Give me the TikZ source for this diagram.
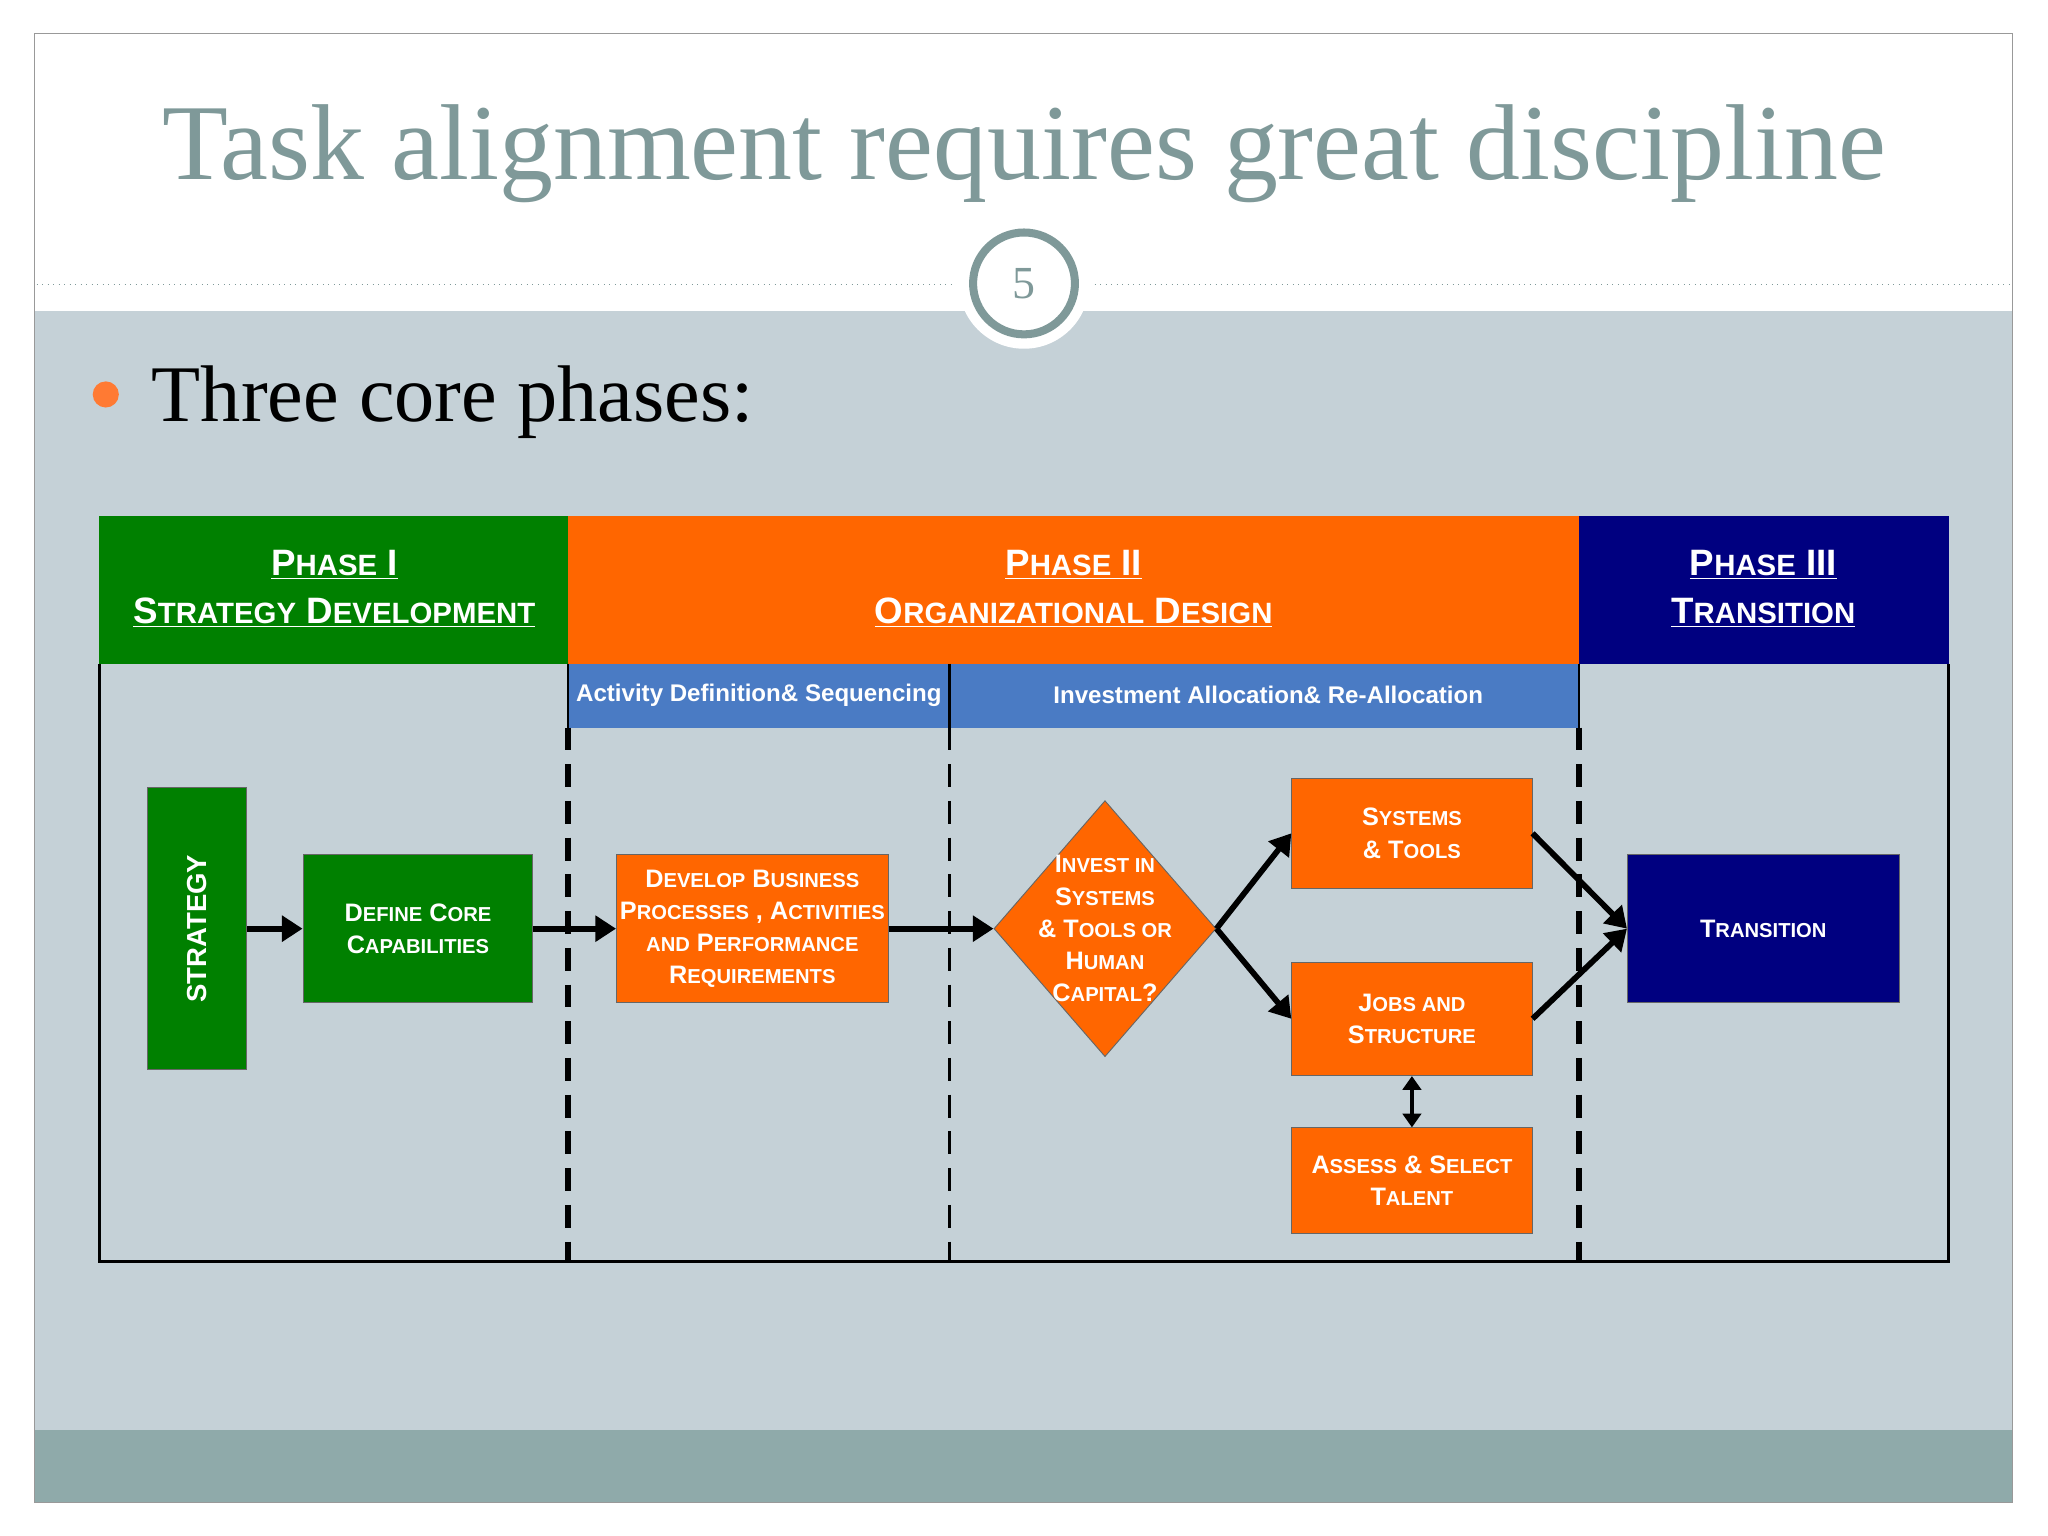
\documentclass[tikz,border=0pt]{standalone}
\usepackage{fontspec}
\setmainfont{Liberation Serif}
\newfontfamily\lsans{Liberation Sans}
\usetikzlibrary{shapes.geometric,arrows.meta}
\definecolor{bgc}{HTML}{C5D1D7}
\definecolor{band}{HTML}{8FAAAA}
\definecolor{teal}{HTML}{7F9999}
\definecolor{gr}{HTML}{008000}
\definecolor{orn}{HTML}{FF6600}
\definecolor{nav}{HTML}{000080}
\definecolor{blu}{HTML}{4A7BC4}
\newcommand\sm[1]{\scalebox{0.8}{#1}}
\begin{document}
\begin{tikzpicture}[x=0.02cm,y=-0.02cm,
 box/.style={draw=black!60,line width=0.4pt,text=white,font=\lsans\bfseries\fontsize{11}{14}\selectfont,align=center,inner sep=0},
 hdr/.style={text=white,font=\lsans\bfseries\fontsize{16}{19}\selectfont,align=center,inner sep=0},
 arr/.style={line width=2.5pt,-{Triangle[length=9pt,width=11pt]}},
 dsh/.style={dash pattern=on 10pt off 6pt}]
\useasboundingbox (0,0) rectangle (1568,1176);
\fill[white] (0,0) rectangle (1568,1176);
\fill[bgc] (26,238) rectangle (1541,1095);
\fill[band] (26,1095) rectangle (1541,1150);
\draw[black!40] (26,26) rectangle (1541,1150);
\draw[teal,dotted] (28,218) -- (730,218) (838,218) -- (1538,218);
\fill[white] (784,217) circle (50);
\draw[teal,line width=3.5pt,fill=white] (784,217) circle (39);
\node[text=teal,font=\fontsize{20}{22}\selectfont] (num) at (784,217) {5};
\node[text=teal,font=\fontsize{47}{54}\selectfont] (title) at (784,118) {Task alignment requires great discipline};
\fill[orange!70!red!80] (81,302) circle (10);
\node[anchor=west,font=\fontsize{35}{40}\selectfont] (bul) at (110,308) {Three core phases:};
% headers
\fill[gr] (76,395) rectangle (435,508);
\fill[orn] (435,395) rectangle (1209,508);
\fill[nav] (1209,395) rectangle (1492,508);
\node[hdr] (h1) at (256,451) {\underline{P\sm{HASE} I}\\[2pt]\underline{S\sm{TRATEGY} D\sm{EVELOPMENT}}};
\node[hdr] (h2) at (822,451) {\underline{P\sm{HASE} II}\\[2pt]\underline{O\sm{RGANIZATIONAL} D\sm{ESIGN}}};
\node[hdr] (h3) at (1350,451) {\underline{P\sm{HASE} III}\\[2pt]\underline{T\sm{RANSITION}}};
\fill[blu] (435,508) rectangle (727,557);
\fill[blu] (727,508) rectangle (1209,557);
\node[text=white,font=\lsans\bfseries\fontsize{10.5}{12}\selectfont] (b1) at (581,532) {Activity Definition\& Sequencing};
\node[text=white,font=\lsans\bfseries\fontsize{10.5}{12}\selectfont] (b2) at (971,532) {Investment Allocation\& Re-Allocation};
\draw[line width=1.2pt] (76,508) -- (76,966) -- (1492,966) -- (1492,508);
\draw[line width=1pt] (435,508) -- (435,557) (727,508)--(727,557) (1209,508)--(1209,557);
\draw[line width=2.5pt,dsh] (435,557) -- (435,966);
\draw[line width=1.5pt,dsh] (727,557) -- (727,966);
\draw[line width=2.5pt,dsh] (1209,557) -- (1209,966);
% nodes
\node[box,fill=gr,minimum width=76*0.02cm,minimum height=216*0.02cm] (str) at (151,711) {};
\node[text=white,font=\lsans\bfseries\fontsize{12}{14}\selectfont,rotate=90] (strt) at (151,711) {STRATEGY};
\node[box,fill=gr,minimum width=176*0.02cm,minimum height=113*0.02cm] (def) at (320,711) {D\sm{EFINE} C\sm{ORE}\\C\sm{APABILITIES}};
\node[box,fill=orn,minimum width=208*0.02cm,minimum height=113*0.02cm] (dev) at (576,711) {D\sm{EVELOP} B\sm{USINESS}\\P\sm{ROCESSES} , A\sm{CTIVITIES}\\\sm{AND} P\sm{ERFORMANCE}\\R\sm{EQUIREMENTS}};
\node[box,fill=orn,diamond,minimum width=170*0.02cm,minimum height=196*0.02cm,aspect=0.87] (dia) at (846,711) {};
\node[text=white,font=\lsans\bfseries\fontsize{11}{14}\selectfont,align=center] (diat) at (846,711) {I\sm{NVEST IN}\\S\sm{YSTEMS}\\\& T\sm{OOLS OR}\\H\sm{UMAN}\\C\sm{APITAL}?};
\node[box,fill=orn,minimum width=184*0.02cm,minimum height=84*0.02cm] (sys) at (1081,638) {S\sm{YSTEMS}\\\& T\sm{OOLS}};
\node[box,fill=orn,minimum width=184*0.02cm,minimum height=87*0.02cm] (job) at (1081,780) {J\sm{OBS AND}\\S\sm{TRUCTURE}};
\node[box,fill=orn,minimum width=184*0.02cm,minimum height=81*0.02cm] (ass) at (1081,904) {A\sm{SSESS} \& S\sm{ELECT}\\T\sm{ALENT}};
\node[box,fill=nav,minimum width=208*0.02cm,minimum height=113*0.02cm] (tr) at (1350,711) {T\sm{RANSITION}};
% arrows
\draw[arr] (str.east |- def) -- (def);
\draw[arr] (def) -- (dev);
\draw[arr] (dev) -- (dia);
\draw[arr] (dia.east) -- (sys.west);
\draw[arr] (dia.east) -- (job.west);
\draw[arr] (sys.east) -- (tr.west);
\draw[arr] (job.east) -- (tr.west);
\draw[line width=2pt,{Triangle[length=6pt,width=8pt]}-{Triangle[length=6pt,width=8pt]}] (job) -- (ass);
\end{tikzpicture}
\end{document}
